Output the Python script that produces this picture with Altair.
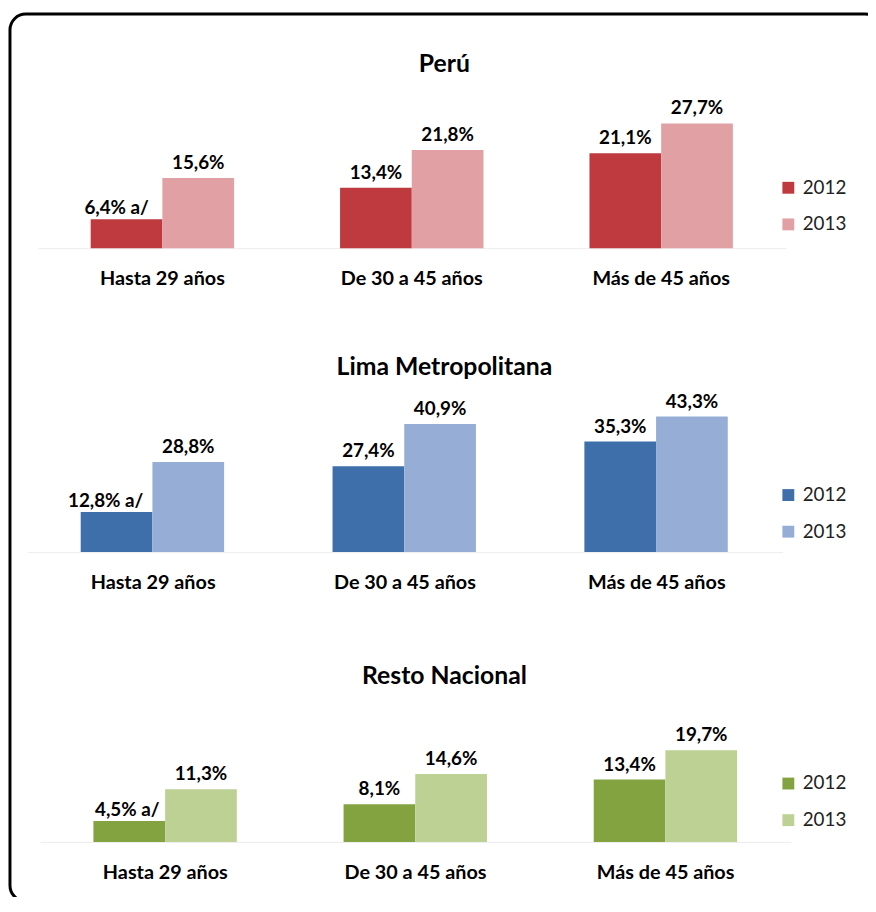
import altair as alt
import pandas as pd

categories = ["Hasta 29 años", "De 30 a 45 años", "Más de 45 años"]
years = ["2012", "2013"]

peru_2012 = [6.4, 13.4, 21.1]
peru_2013 = [15.6, 21.8, 27.7]
lima_2012 = [12.8, 27.4, 35.3]
lima_2013 = [28.8, 40.9, 43.3]
resto_2012 = [4.5, 8.1, 13.4]
resto_2013 = [11.3, 14.6, 19.7]
notes_2012 = ["a/", "", ""]

titles = ["Perú", "Lima Metropolitana", "Resto Nacional"]
peru_colors = ["#bf3a3f", "#e0a0a4"]
lima_colors = ["#3f6fab", "#96add6"]
resto_colors = ["#83a341", "#bdd194"]

FONT = "Lato"
VX = 30  # page x of the plot areas (for decoration placement)


def fmt(v):
    return f"{v:.1f}".replace(".", ",") + "%"


def make_df(v12, v13):
    rows = []
    for i, c in enumerate(categories):
        rows.append({"cat": c, "year": "2012", "value": v12[i], "note": notes_2012[i]})
        rows.append({"cat": c, "year": "2013", "value": v13[i], "note": ""})
    df = pd.DataFrame(rows)
    df["label"] = [fmt(v) + (" " + n if n else "") for v, n in zip(df["value"], df["note"])]
    return df


def panel(title, v12, v13, colors, height, ymax, xrange, title_y, legend_y, note_dx, frame=False):
    df = make_df(v12, v13)
    x = alt.X(
        "cat:N",
        sort=categories,
        scale=alt.Scale(range=xrange, paddingInner=0.425, paddingOuter=0.2125),
        axis=alt.Axis(
            title=None, labelAngle=0, labelFont=FONT, labelFontSize=20,
            labelFontWeight="bold", labelColor="#000000", labelPadding=21,
            ticks=False, tickSize=0, domainColor="#ededed", labelLimit=400,
        ),
    )
    xo = alt.XOffset("year:N", scale=alt.Scale(domain=years, paddingInner=0, paddingOuter=0))
    y = alt.Y("value:Q", scale=alt.Scale(domain=[0, ymax], nice=False, zero=True), axis=None)
    color = alt.Color(
        "year:N",
        scale=alt.Scale(domain=years, range=colors),
        legend=alt.Legend(
            title=None, orient="none", legendX=757, legendY=legend_y,
            symbolType="square", symbolSize=144, symbolStrokeWidth=0,
            labelFont=FONT, labelFontSize=19, labelColor="#222222",
            labelOffset=5, rowPadding=17, padding=0,
        ),
    )
    bars = alt.Chart(df).mark_bar().encode(x=x, xOffset=xo, y=y, color=color)
    labels = (
        alt.Chart(df)
        .transform_filter("datum.note == ''")
        .mark_text(font=FONT, fontSize=19, fontWeight="bold", color="#000000",
                   baseline="alphabetic", dy=-9)
        .encode(x=x, xOffset=xo, y=y, text="label:N")
    )
    note_labels = (
        alt.Chart(df)
        .transform_filter("datum.note != ''")
        .mark_text(font=FONT, fontSize=19, fontWeight="bold", color="#000000",
                   baseline="alphabetic", dy=-5, dx=note_dx)
        .encode(x=x, xOffset=xo, y=y, text="label:N")
    )
    ttl = (
        alt.Chart(pd.DataFrame({"t": [title]}))
        .mark_text(font=FONT, fontSize=25, fontWeight="bold", color="#000000",
                   align="center", baseline="alphabetic")
        .encode(text="t:N", x=alt.value(449 - VX), y=alt.value(title_y))
    )
    layers = [bars, labels, note_labels, ttl]
    if frame:
        fr = (
            alt.Chart(pd.DataFrame({"f": [0]}))
            .mark_rect(fillOpacity=0, stroke="#000000", strokeWidth=3, cornerRadius=16)
            .encode(
                x=alt.value(10 - VX), x2=alt.value(890 - VX),
                y=alt.value(9.5 - 106), y2=alt.value(906 - 106),
            )
        )
        layers = [fr] + layers
    return alt.layer(*layers).properties(width=760, height=height)


p1 = panel(titles[0], peru_2012, peru_2013, peru_colors, 140, 140 / 4.55,
           [8, 764], -37.7, 69.5, -10, frame=True)
p2 = panel(titles[1], lima_2012, lima_2013, lima_colors, 157, 157 / 3.16,
           [-2.6, 760.8], -22, 90, -11)
p3 = panel(titles[2], resto_2012, resto_2013, resto_colors, 143, 143 / 4.7,
           [10.6, 768.9], -16.7, 74.5, -2)

chart = (
    alt.vconcat(p1, p2, p3, spacing=150, bounds="flush")
    .resolve_scale(color="independent", x="independent", y="independent")
    .properties(padding={"left": 0, "top": 0, "right": -15, "bottom": -11.5})
    .configure(font=FONT)
    .configure_view(strokeWidth=0)
)

chart.save("out.html", embed_options={"renderer": "svg", "actions": False})
